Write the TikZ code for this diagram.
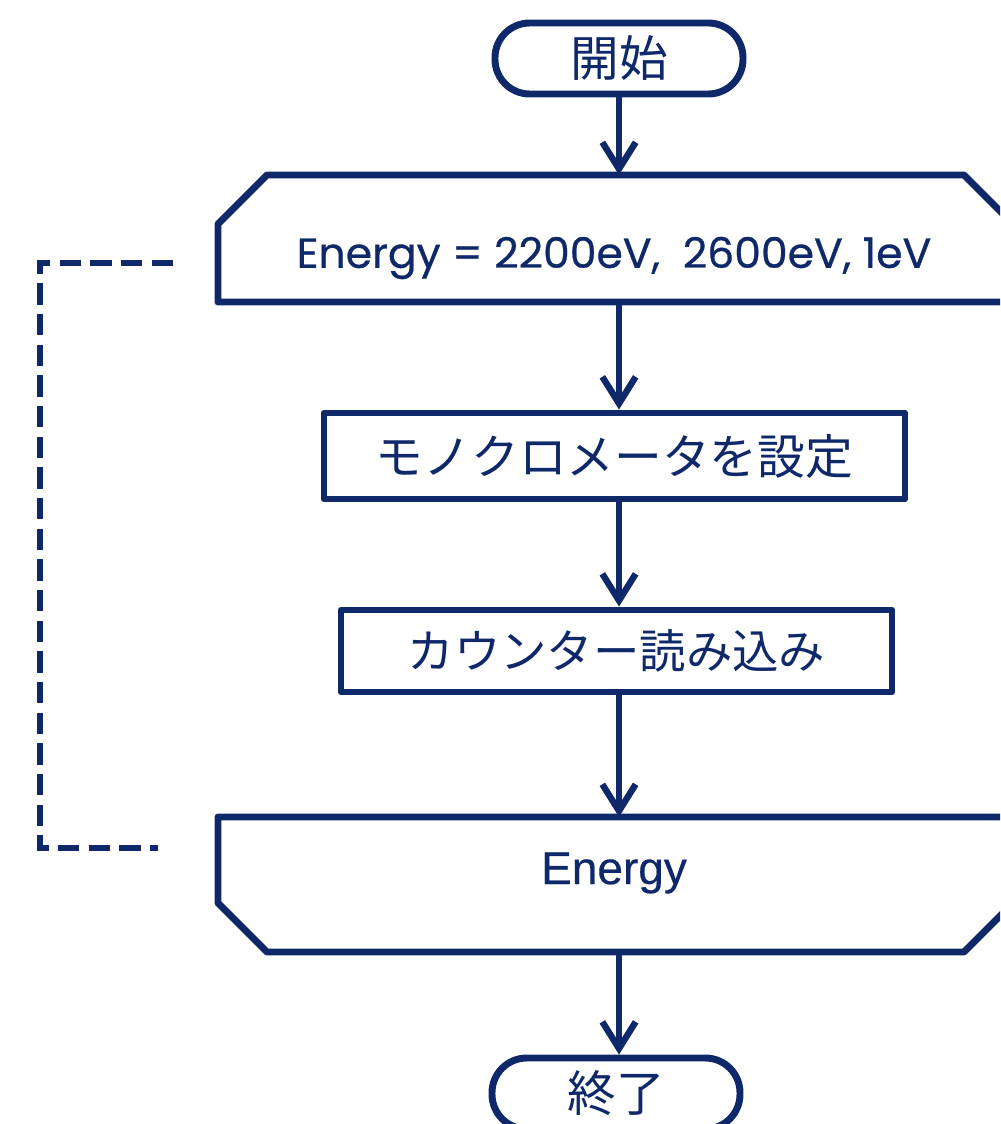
\documentclass[tikz,border=0pt]{standalone}
\usepackage{fontspec}
\usepackage{graphicx}
\usetikzlibrary{arrows.meta,calc}
\newfontfamily\jpfont{Noto Sans CJK JP}
\newfontfamily\geofont[FakeBold=0.6]{Poppins}
\newfontfamily\arialfont[FakeBold=0.4]{Liberation Sans}
\definecolor{navy}{RGB}{14,40,105}
\begin{document}
\begin{tikzpicture}[x=0.75pt,y=-0.75pt,
  outl/.style={draw=navy,line width=5.2pt,line join=round},
  holder/.style={draw=none,outer sep=0pt,inner sep=0pt},
  boxnode/.style={outl,rectangle,inner sep=0pt,text=navy,font=\jpfont\fontsize{35.8pt}{40pt}\selectfont},
  termnode/.style={outl,rectangle,rounded corners=26pt,inner sep=0pt,minimum width=186pt,minimum height=53.25pt,text=navy,font=\jpfont\fontsize{36.5pt}{40pt}\selectfont},
  conn/.style={draw=navy,line width=4.8pt,-{Straight Barb[length=20pt,width=25pt,line width=4.8pt]}},
  dashline/.style={draw=navy,line width=4.5pt,dash pattern=on 16pt off 7pt}]
\clip (0,0) rectangle (1000,1124);
\fill[white] (0,0) rectangle (1000,1124);

% terminals
\node[termnode] (st) at (619,58.5) {開始};
\node[termnode] (en) at (616,1093.5) {終了};

% loop start
\node[holder,minimum width=596.25pt,minimum height=95.25pt] (ls) at (615.5,238.5) {};
\draw[outl] (ls.south west) -- ($(ls.north west)+(0,49)$) -- ($(ls.north west)+(49,0)$)
  -- ($(ls.north east)+(-49,0)$) -- ($(ls.north east)+(0,49)$) -- (ls.south east) -- cycle;
\node[text=navy,inner sep=0pt] (lstext) at (614,258)
  {\resizebox{476pt}{\height}{\geofont\fontsize{31.5pt}{36pt}\selectfont Energy = 2200eV,\ \ 2600eV, 1eV}};

% process boxes
\node[boxnode,minimum width=435.75pt,minimum height=64.5pt] (b1) at (614.5,456) {モノクロメータを設定};
\node[boxnode,minimum width=413.25pt,minimum height=61.5pt] (b2) at (616.5,651) {\fontsize{34.8pt}{40pt}\selectfont カウンター読み込み};

% loop end
\node[holder,minimum width=596.25pt,minimum height=101.25pt] (le) at (615.5,884.5) {};
\draw[outl] (le.north west) -- ($(le.south west)+(0,-49)$) -- ($(le.south west)+(49,0)$)
  -- ($(le.south east)+(-49,0)$) -- ($(le.south east)+(0,-49)$) -- (le.north east) -- cycle;
\node[text=navy,inner sep=0pt,font=\arialfont\fontsize{34.5pt}{40pt}\selectfont] (letext) at (614,873) {Energy};

% connectors
\draw[conn] (st.south) -- (st.south |- ls.north);
\draw[conn] (ls.south -| st.south) -- (b1.north -| st.south);
\draw[conn] (b1.south -| st.south) -- (b2.north -| st.south);
\draw[conn] (b2.south -| st.south) -- (le.north -| st.south);
\draw[conn] (le.south -| st.south) -- (en.north -| st.south);

% loop-back dashed line
\coordinate (da) at (173,263);
\coordinate (dc) at (40,555);
\coordinate (db) at (158,848);
\draw[dashline] (da) -| (dc) |- (db);
\end{tikzpicture}
\end{document}
